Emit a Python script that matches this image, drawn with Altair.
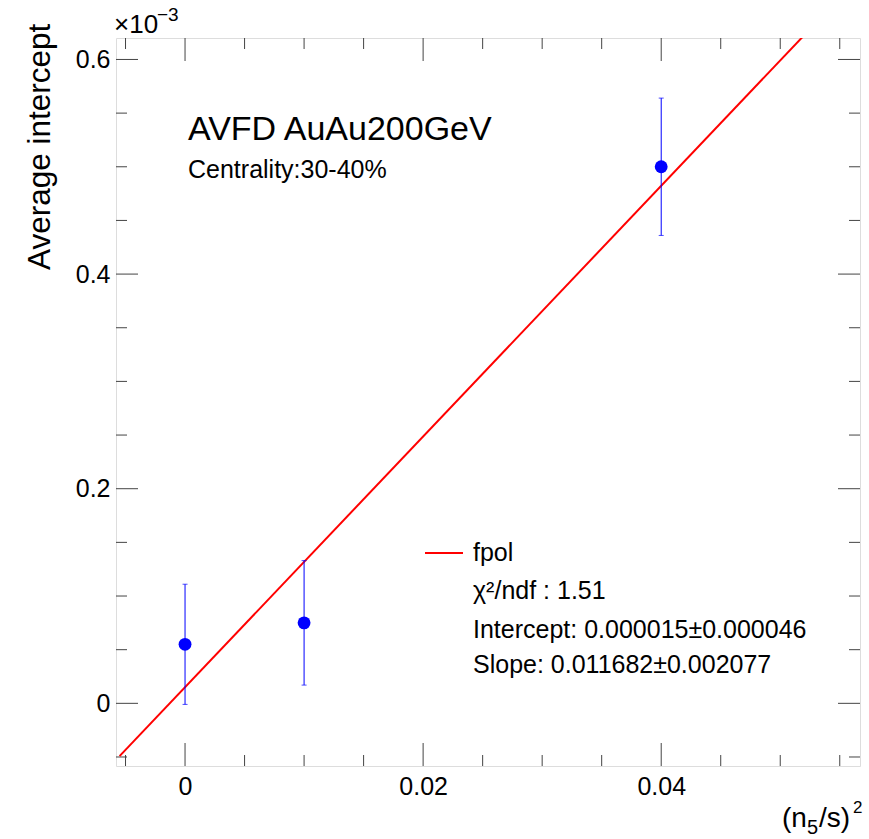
import altair as alt
import pandas as pd

# ---------------- data ----------------
x_vals = [0.0, 0.01, 0.04]                 # (n5/s)^2
y_vals = [0.055, 0.075, 0.500]             # average intercept, units of 1e-3
y_errs = [0.056, 0.058, 0.064]             # errors, units of 1e-3

fit_intercept = 0.000015
fit_slope = 0.011682
fit_range = [-0.0055, 0.06]

x_major = [0.0, 0.02, 0.04]
x_minor = [-0.005, 0.005, 0.01, 0.015, 0.025, 0.03, 0.035, 0.045, 0.05, 0.055]
y_major = [0.0, 0.2, 0.4, 0.6]
y_minor = [-0.05, 0.05, 0.1, 0.15, 0.25, 0.3, 0.35, 0.45, 0.5, 0.55]

title_text = "AVFD AuAu200GeV"
subtitle_text = "Centrality:30-40%"
legend_lines = ["fpol", "χ²/ndf : 1.51", "Intercept: 0.000015±0.000046", "Slope: 0.011682±0.002077"]

# ---------------- layout ----------------
W, H = 744, 728
FONT = "Liberation Sans"
XDOM = [-0.0058, 0.0567]
YDOM = [-0.0584, 0.620]

xs = alt.Scale(domain=XDOM, nice=False, zero=False)
ys = alt.Scale(domain=YDOM, nice=False, zero=False)

pts = pd.DataFrame({"x": x_vals, "y": y_vals, "e": y_errs})
pts["lo"] = pts["y"] - pts["e"]
pts["hi"] = pts["y"] + pts["e"]

fit = pd.DataFrame({"x": fit_range})
fit["y"] = (fit_intercept + fit_slope * fit["x"]) * 1e3

base_axes = alt.Chart(pd.DataFrame({"x": [0.0], "y": [0.0]})).mark_point(opacity=0).encode(
    x=alt.X("x:Q", scale=xs, title=None,
            axis=alt.Axis(values=x_major, ticks=False, domain=False, grid=False,
                          labelFont=FONT, labelFontSize=25, labelColor="black", labelPadding=8,
                          labelExpr="datum.value == 0 ? '0' : format(datum.value, '.2f')")),
    y=alt.Y("y:Q", scale=ys, title=None,
            axis=alt.Axis(values=y_major, ticks=False, domain=False, grid=False,
                          labelFont=FONT, labelFontSize=25, labelColor="black", labelPadding=6,
                          labelExpr="datum.value == 0 ? '0' : format(datum.value, '.1f')")),
)

TC = "#444"

def xticks(vals, length, top):
    d = alt.Chart(pd.DataFrame({"v": vals})).mark_rule(color=TC, strokeWidth=1)
    if top:
        return d.encode(x=alt.X("v:Q", scale=xs), y=alt.value(0), y2=alt.value(length))
    return d.encode(x=alt.X("v:Q", scale=xs), y=alt.value(H), y2=alt.value(H - length))

def yticks(vals, length, right):
    d = alt.Chart(pd.DataFrame({"v": vals})).mark_rule(color=TC, strokeWidth=1)
    if right:
        return d.encode(y=alt.Y("v:Q", scale=ys), x=alt.value(W), x2=alt.value(W - length))
    return d.encode(y=alt.Y("v:Q", scale=ys), x=alt.value(0), x2=alt.value(length))

ticks = [
    xticks(x_major, 23, False), xticks(x_minor, 11, False),
    xticks(x_major, 23, True), xticks(x_minor, 11, True),
    yticks(y_major, 22, False), yticks(y_minor, 11, False),
    yticks(y_major, 22, True), yticks(y_minor, 11, True),
]

line = alt.Chart(fit).mark_line(color="#ff0000", strokeWidth=2, clip=True).encode(
    x=alt.X("x:Q", scale=xs), y=alt.Y("y:Q", scale=ys))

err = alt.Chart(pts).mark_rule(color="#0000ff", strokeWidth=1).encode(
    x=alt.X("x:Q", scale=xs), y=alt.Y("lo:Q", scale=ys), y2="hi:Q")
cap_lo = alt.Chart(pts).mark_tick(color="#0000ff", thickness=1, size=5, orient="horizontal").encode(
    x=alt.X("x:Q", scale=xs), y=alt.Y("lo:Q", scale=ys))
cap_hi = alt.Chart(pts).mark_tick(color="#0000ff", thickness=1, size=5, orient="horizontal").encode(
    x=alt.X("x:Q", scale=xs), y=alt.Y("hi:Q", scale=ys))
dots = alt.Chart(pts).mark_circle(color="#0000ff", opacity=1, size=165).encode(
    x=alt.X("x:Q", scale=xs), y=alt.Y("y:Q", scale=ys))

def txt(s, x, y, size, align="left", baseline="alphabetic", angle=0):
    kw = dict(font=FONT, fontSize=size, color="black", align=align, baseline=baseline)
    if angle:
        kw["angle"] = angle
    return alt.Chart(pd.DataFrame({"t": [s]})).mark_text(**kw).encode(
        text="t:N", x=alt.value(x), y=alt.value(y))

texts = [
    txt(title_text, 72, 102, 34),
    txt(subtitle_text, 72, 140, 25),
    txt("Average intercept", -66, 232, 31.5, angle=270),
    txt("×10", -2, -5, 26),
    txt("−3", 41, -17, 19),
    txt("(n", 666, 789, 28),
    txt("5", 691, 796, 20),
    txt("/s)", 703, 789, 28),
    txt("2", 737, 775, 17),
]

legend_rule = alt.Chart(pd.DataFrame({"a": [0]})).mark_rule(color="#ff0000", strokeWidth=2).encode(
    x=alt.value(309), x2=alt.value(347), y=alt.value(515))
legend_y = [515, 553, 592, 627]
legend_texts = [txt(s, 357, yy, 25, baseline="middle") for s, yy in zip(legend_lines, legend_y)]

chart = alt.layer(base_axes, *ticks, line, err, cap_lo, cap_hi, dots, *texts, legend_rule, *legend_texts).properties(
    width=W, height=H,
    autosize=alt.AutoSizeParams(type="none"),
    padding={"left": 116, "top": 38, "right": 9, "bottom": 73},
).configure_view(stroke="#444", strokeWidth=1).configure(background="white")

chart.save("out.html", embed_options={"renderer": "svg", "actions": False})
